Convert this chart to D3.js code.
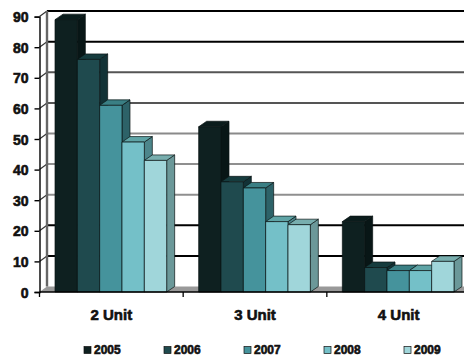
<!DOCTYPE html>
<html>
<head>
<meta charset="utf-8">
<script src="https://cdn.jsdelivr.net/npm/d3@7/dist/d3.min.js"></script>
<style>
html,body{margin:0;padding:0;background:#fff;overflow:hidden}
svg{display:block}
text{font-family:"Liberation Sans",Arial,sans-serif;font-weight:bold;fill:#111;stroke:#111;stroke-width:.6px}
</style>
</head>
<body>
<svg id="chart" width="464" height="356"></svg>
<script>
// Units by building size, one series per year
const categories = ["2 Unit", "3 Unit", "4 Unit"];
const years = ["2005", "2006", "2007", "2008", "2009"];
const values2005 = [89, 54, 23];
const values2006 = [76, 36, 8];
const values2007 = [61, 34, 7];
const values2008 = [49, 23, 7];
const values2009 = [43, 22, 10];
const yTicks = [0, 10, 20, 30, 40, 50, 60, 70, 80, 90];
const gridTones = ["#000", "#000", "#8f8f8f", "#8f8f8f", "#8a8a8a", "#555", "#555", "#000", "#000"];
const frontColors = ["#0e2020", "#1f4a4e", "#45939c", "#74c0c8", "#a0d6da"];
const topColors = ["#0b1c1c", "#163c3e", "#3a7f84", "#5fa4a6", "#78aeae"];
const sideColors = ["#081616", "#123236", "#2d6268", "#4d868b", "#6b9899"];

const series = [values2005, values2006, values2007, values2008, values2009];
const depth = {dx: 8, dy: -5.5};
const wall = {dx: 7.5, dy: -5.5};

const svg = d3.select("#chart");
const y = d3.scaleLinear().domain([0, 90]).range([292, 16.6]);
const x0 = d3.scaleBand().domain(categories).range([39.5, 470.5]);
const x1 = d3.scaleBand().domain(years)
  .range([15.5, x0.bandwidth() - 16.5]);

const poly = pts => pts.map(p => p.join(",")).join(" ");

// Back wall gridlines and the short runs across the side wall
const grid = svg.append("g");
yTicks.slice(1).forEach((t, i) => {
  const tone = gridTones[i];
  grid.append("line")
    .attr("x1", 39.5 + wall.dx).attr("x2", 464)
    .attr("y1", y(t) + wall.dy).attr("y2", y(t) + wall.dy)
    .attr("stroke", tone).attr("stroke-width", 2);
  grid.append("line")
    .attr("x1", 39.5).attr("x2", 39.5 + wall.dx)
    .attr("y1", y(t)).attr("y2", y(t) + wall.dy)
    .attr("stroke", "#333").attr("stroke-width", 1.2);
});

// Floor
svg.append("polygon")
  .attr("points", poly([[39.5, y(0)], [39.5 + wall.dx, y(0) + wall.dy], [470, y(0) + wall.dy], [470, y(0)]]))
  .attr("fill", "#999");

// Back wall edge
svg.append("line")
  .attr("x1", 39.5 + wall.dx).attr("x2", 39.5 + wall.dx)
  .attr("y1", y(90) + wall.dy).attr("y2", y(0) + wall.dy)
  .attr("stroke", "#666").attr("stroke-width", 2.4);

// Extruded columns, drawn left to right so each overlaps its neighbour's side
categories.forEach((cat, c) => {
  years.forEach((yr, s) => {
    const v = series[s][c];
    const l = x0(cat) + x1(yr);
    const r = l + x1.bandwidth();
    const t = y(v);
    const b = y(0);
    const g = svg.append("g").attr("stroke", "#0a1414").attr("stroke-width", 0.7).attr("stroke-linejoin", "round");
    g.append("polygon")
      .attr("points", poly([[r, t], [r + depth.dx, t + depth.dy], [r + depth.dx, b + depth.dy], [r, b]]))
      .attr("fill", sideColors[s]);
    g.append("polygon")
      .attr("points", poly([[l, t], [l + depth.dx, t + depth.dy], [r + depth.dx, t + depth.dy], [r, t]]))
      .attr("fill", topColors[s]);
    g.append("rect")
      .attr("x", l).attr("y", t)
      .attr("width", r - l).attr("height", b - t)
      .attr("fill", frontColors[s]);
  });
});

// Front edges of the axes
svg.append("line")
  .attr("x1", 39.5).attr("x2", 464).attr("y1", y(0)).attr("y2", y(0))
  .attr("stroke", "#000").attr("stroke-width", 1.4);

const yAxis = d3.axisLeft(y).tickValues(yTicks).tickSize(5).tickPadding(6).tickFormat(d3.format("d"));
const yG = svg.append("g").attr("transform", "translate(39.5,0)").call(yAxis);
yG.select(".domain").attr("stroke", "#000").attr("stroke-width", 1.4);
yG.selectAll(".tick line").attr("stroke", "#000").attr("stroke-width", 1.4);
yG.selectAll("text").style("font-size", "14px").attr("dy", "0.36em");

const xAxis = d3.axisBottom(x0).tickSize(0).tickPadding(17);
const xG = svg.append("g").attr("transform", `translate(0,${y(0)})`).call(xAxis);
xG.select(".domain").remove();
xG.selectAll("text").style("font-size", "15px");

// Tick marks fall on the category boundaries
svg.append("g").selectAll("line").data(categories).join("line")
  .attr("x1", d => x0(d)).attr("x2", d => x0(d))
  .attr("y1", y(0)).attr("y2", y(0) + 5)
  .attr("stroke", "#000").attr("stroke-width", 1.3);

// Legend
const legendX = d3.scalePoint().domain(years).range([84, 404]);
const legend = svg.append("g").selectAll("g").data(years).join("g")
  .attr("transform", d => `translate(${legendX(d)},350)`);
legend.append("rect")
  .attr("x", 0).attr("y", -3.5).attr("width", 7).attr("height", 7)
  .attr("fill", (d, i) => frontColors[i]).attr("stroke", "#111").attr("stroke-width", 0.7);
legend.append("text")
  .attr("x", 10).attr("dy", "0.36em")
  .style("font-size", "12px")
  .text(d => d);
</script>
</body>
</html>
